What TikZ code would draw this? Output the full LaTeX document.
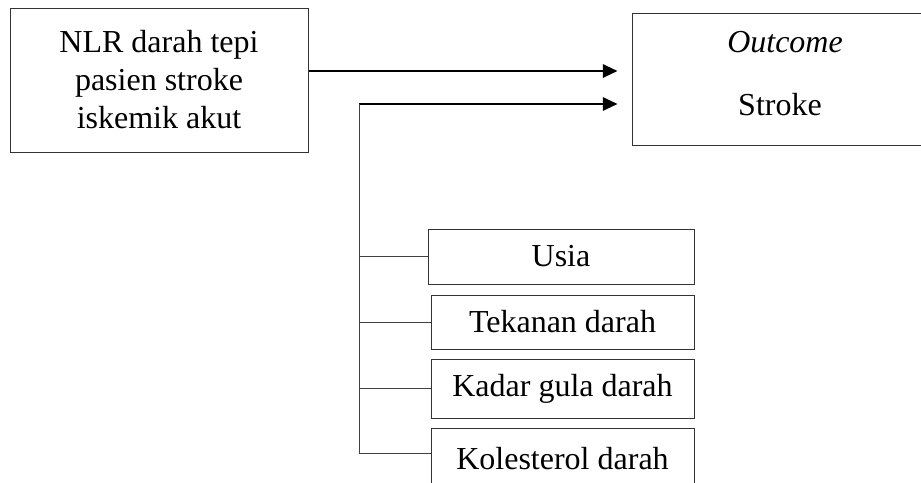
\documentclass[tikz,border=0pt]{standalone}
\usepackage{fontspec}
\setmainfont{Liberation Serif}
\usetikzlibrary{arrows.meta}
\begin{document}
\begin{tikzpicture}[x=0.75pt,y=-0.75pt,
  box/.style={draw=black!80, line width=0.75pt, rectangle, inner sep=0pt,
    font=\fontsize{24}{28.5}\selectfont, align=center},
  lbl/.style={inner sep=0pt, font=\fontsize{24}{28.5}\selectfont, anchor=base},
  arr/.style={line width=1.5pt, shorten >=10.5pt, -{Triangle[length=11pt,width=10pt]}},
  thinline/.style={line width=0.75pt, draw=black!75}]
\clip (0,0) rectangle (921,482);
\fill[white] (0,0) rectangle (921,482);
\node[box, minimum width=223.5pt, minimum height=108pt] (nlr) at (159,80)
  {NLR darah tepi\\pasien stroke\\iskemik akut};
\node[box, minimum width=227.25pt, minimum height=99pt] (out) at (783.5,79) {};
\node[lbl] (outt) at (785,52) {\itshape Outcome};
\node[lbl] (strk) at (780,115) {Stroke};
\node[box, minimum width=199.5pt, minimum height=41.25pt] (usia) at (561,256.5) {Usia};
\node[box, minimum width=197.25pt, minimum height=40.5pt] (tek) at (562.5,322) {Tekanan darah};
\node[box, minimum width=197.25pt, minimum height=44.25pt] (kad) at (562.5,388.5) {Kadar gula darah};
\node[box, minimum width=197.25pt, minimum height=46.5pt] (kol) at (562.5,459) {Kolesterol darah};
\path (nlr.east) ++(0,-9) coordinate (a1s);
\coordinate (j) at (359,104);
\coordinate (kolt) at ([yshift=4.5pt]kol.west);
\draw[arr] (a1s) -- (a1s -| out.west);
\draw[arr] (j) -- (j -| out.west);
\draw[thinline] (j) -- (j |- kolt);
\draw[thinline] (j |- usia.west) -- (usia.west);
\draw[thinline] (j |- tek.west) -- (tek.west);
\draw[thinline] (j |- kad.west) -- (kad.west);
\draw[thinline] (j |- kolt) -- (kolt);
\end{tikzpicture}
\end{document}
